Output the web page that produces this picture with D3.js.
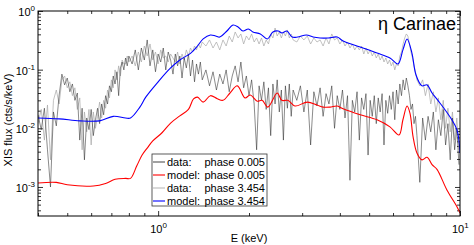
<!DOCTYPE html>
<html>
<head>
<meta charset="utf-8">
<script src="https://cdn.jsdelivr.net/npm/d3@7"></script>
<style>
body { margin: 0; background: #fff; }
text { font-family: "Liberation Sans", Arial, Helvetica, sans-serif; }
</style>
</head>
<body>
<div id="chart"></div>
<script>
// energy grid of the XIS spectra (keV)
var energy = [0.40,0.41,0.42,0.43,0.44,0.45,0.46,0.47,0.48,0.49,
    0.50,0.51,0.52,0.53,0.54,0.55,0.56,0.57,0.58,0.59,
    0.60,0.61,0.62,0.63,0.64,0.65,0.66,0.67,0.68,0.69,
    0.70,0.71,0.72,0.73,0.74,0.75,0.76,0.77,0.78,0.79,0.80,
    0.82,0.84,0.86,0.88,0.90,0.92,0.94,0.96,0.98,1.00,
    1.02,1.04,1.06,1.08,1.10,1.12,1.14,1.16,1.18,1.20,
    1.22,1.24,1.26,1.28,1.30,1.32,1.34,1.36,1.38,1.40,
    1.44,1.48,1.52,1.56,1.60,1.64,1.68,1.72,1.76,1.80,
    1.84,1.88,1.92,1.96,2.00,2.04,2.08,2.12,2.16,2.20,
    2.24,2.28,2.32,2.36,2.40,2.44,2.48,2.52,2.56,2.60,
    2.64,2.68,2.72,2.76,2.80,
    2.88,2.96,3.04,3.12,3.20,3.28,3.36,3.44,3.52,3.60,
    3.68,3.76,3.84,3.92,4.00,4.08,4.16,4.24,4.32,4.40,
    4.48,4.56,4.64,4.72,4.80,4.88,4.96,5.04,5.12,5.20,
    5.28,5.36,5.44,5.52,5.60,5.68,5.76,5.84,5.92,6.00,
    6.08,6.16,6.24,6.32,6.40,6.48,6.56,6.64,6.72,6.80,
    6.88,6.96,7.04,7.12,7.20,
    7.36,7.52,7.68,7.84,8.00,8.16,8.32,8.48,8.64,8.80,
    8.96,9.12,9.28,9.44,9.60,9.76,9.92]

// data: phase 0.005 (cts/s/keV)
var data_0005 = [0.017,0.0095,0.022,0.0043,0.0010,0.019,0.011,0.037,0.084,0.055,
    0.072,0.042,0.057,0.030,0.040,0.0063,0.022,0.0029,0.015,0.0095,
    0.021,0.0075,0.014,0.022,0.012,0.026,0.017,0.036,0.026,0.053,
    0.042,0.078,0.057,0.092,0.036,0.107,0.135,0.099,0.158,0.116,0.171,
    0.125,0.217,0.099,0.234,0.146,0.321,0.116,0.217,0.092,0.185,
    0.135,0.234,0.099,0.200,0.146,0.084,0.185,0.116,0.171,0.072,
    0.158,0.107,0.185,0.078,0.146,0.062,0.125,0.084,0.135,0.067,
    0.099,0.053,0.092,0.045,0.084,0.057,0.099,0.042,0.078,0.116,
    0.062,0.135,0.049,0.078,0.036,0.067,0.026,0.0043,0.053,0.030,
    0.062,0.021,0.049,0.0075,0.057,0.026,0.067,0.019,0.045,0.0063,
    0.053,0.022,0.057,0.016,0.045,
    0.030,0.053,0.019,0.045,0.0052,0.042,0.024,0.049,0.016,0.039,
    0.026,0.053,0.010,0.036,0.021,0.045,0.015,0.036,0.0013,0.030,
    0.019,0.042,0.0063,0.033,0.021,0.039,0.0035,0.030,0.016,0.036,
    0.012,0.033,0.019,0.039,0.0052,0.030,0.018,0.036,0.021,0.042,
    0.014,0.045,0.026,0.057,0.036,0.067,0.045,0.072,0.053,0.036,
    0.021,0.026,0.012,0.016,0.0075,
    0.0012,0.015,0.0063,0.016,0.0087,0.019,0.0043,0.014,0.0075,0.021,
    0.0052,0.012,0.0029,0.015,0.0043,0.010,0.0024]

// data: phase 3.454
var data_3454 = [0.012,0.021,0.0063,0.025,0.0029,0.030,0.045,0.026,0.067,0.078,
    0.049,0.062,0.036,0.049,0.021,0.033,0.0043,0.019,0.0087,0.021,
    0.0052,0.019,0.010,0.016,0.028,0.015,0.030,0.022,0.045,0.033,
    0.067,0.049,0.099,0.067,0.116,0.078,0.146,0.125,0.125,0.171,0.135,
    0.171,0.116,0.200,0.135,0.253,0.171,0.274,0.146,0.200,0.125,
    0.217,0.158,0.171,0.135,0.185,0.158,0.135,0.200,0.125,0.185,
    0.146,0.217,0.171,0.234,0.200,0.253,0.217,0.274,0.234,0.296,
    0.253,0.321,0.234,0.296,0.217,0.321,0.253,0.375,0.296,0.439,
    0.347,0.406,0.274,0.375,0.321,0.406,0.296,0.347,0.274,0.347,
    0.253,0.321,0.274,0.406,0.347,0.513,0.375,0.439,0.347,0.439,
    0.375,0.475,0.347,0.406,0.321,
    0.296,0.375,0.321,0.375,0.274,0.347,0.296,0.321,0.253,0.347,
    0.274,0.406,0.321,0.347,0.274,0.321,0.253,0.296,0.234,0.274,
    0.217,0.253,0.217,0.253,0.185,0.234,0.185,0.217,0.171,0.200,
    0.158,0.185,0.146,0.171,0.135,0.158,0.125,0.146,0.116,0.135,
    0.099,0.125,0.116,0.171,0.200,0.274,0.347,0.406,0.375,0.274,
    0.200,0.158,0.116,0.092,0.067,
    0.053,0.067,0.036,0.057,0.026,0.042,0.019,0.033,0.014,0.030,
    0.010,0.022,0.0087,0.019,0.0063,0.015,0.0043]

// model curves
var model_0005_E = [0.40,0.46,0.50,0.61,0.67,0.72,0.78,0.81,0.85,0.885,
    0.92,0.96,1.03,1.10,1.18,1.26,1.31,1.35,1.41,1.49,
    1.57,1.64,1.73,1.83,1.94,2.02,2.13,2.21,2.31,2.48,
    2.57,2.69,2.84,3.12,3.36,3.52,3.71,3.92,4.10,4.67,
    5.31,5.86,6.28,6.47,6.68,6.83,6.99,7.20,7.48,7.78,
    8.08,8.39,9.05,9.77,10.0]
var model_0005_F = [0.00117,0.0012,0.00109,0.00104,0.00115,0.00135,0.0014,0.0014,0.0023,0.0035,
    0.0046,0.0061,0.0084,0.0123,0.0163,0.021,0.0317,0.034,0.028,0.036,
    0.032,0.030,0.040,0.053,0.033,0.037,0.029,0.030,0.023,0.040,
    0.030,0.030,0.024,0.028,0.025,0.023,0.023,0.024,0.0215,0.017,
    0.014,0.0106,0.0077,0.014,0.024,0.018,0.0072,0.0038,0.0029,0.0032,
    0.0024,0.0020,0.00089,0.00046,0.00036]
var model_3454_E = [0.40,0.47,0.55,0.64,0.71,0.78,0.81,0.87,0.91,1.00,
    1.10,1.18,1.28,1.35,1.41,1.49,1.55,1.60,1.69,1.77,
    1.84,1.91,1.99,2.06,2.18,2.30,2.40,2.50,2.57,2.67,
    2.78,2.90,3.10,3.26,3.44,3.66,3.92,4.10,4.67,5.31,
    5.86,6.23,6.47,6.68,6.93,7.15,7.48,7.78,8.08,8.45,
    9.26,9.77,10.0]
var model_3454_F = [0.015,0.0145,0.0134,0.0134,0.016,0.015,0.015,0.023,0.034,0.062,
    0.107,0.146,0.19,0.253,0.334,0.39,0.375,0.36,0.456,0.577,
    0.534,0.456,0.494,0.439,0.406,0.334,0.439,0.456,0.422,0.456,
    0.36,0.36,0.39,0.36,0.347,0.347,0.36,0.308,0.243,0.192,
    0.158,0.125,0.217,0.334,0.192,0.081,0.053,0.055,0.040,0.030,
    0.0157,0.0094,0.0038]

var legend_labels = [['data:', 'phase 0.005'], ['model:', 'phase 0.005'], ['data:', 'phase 3.454'], ['model:', 'phase 3.454']]
var legend_colors = ['#555555', '#ff0000', '#bbbbbb', '#0000ff']
var y_major = [1e-3, 1e-2, 1e-1, 1]
var y_exp = ['-3', '-2', '-1', '0']
var x_major = [1, 10]
var x_exp = ['0', '1']

var W = 474, H = 245
// plot box (note: "top" is reserved on window)
var p_left = 38, p_right = 460, p_top = 11, p_bottom = 216

var svg = d3.select('#chart')
    .append('svg')
    .attr('width', W)
    .attr('height', H)

var x = d3.scaleLog().domain([0.4, 10]).range([p_left, p_right])
var y = d3.scaleLog().domain([3.2e-4, 1]).range([p_bottom, p_top])

svg.append('clipPath')
    .attr('id', 'plotclip')
    .append('rect')
    .attr('x', p_left).attr('y', p_top)
    .attr('width', p_right - p_left).attr('height', p_bottom - p_top)

// minor ticks
var x_minor = [], y_minor = []
;[0.1, 1].forEach(function(d){ for (var k = 2; k <= 9; k++){ var v = +(d * k).toFixed(2); if (v >= 0.4 && v < 10) x_minor.push(v) } })
;[1e-4, 1e-3, 1e-2, 1e-1].forEach(function(d){ for (var k = 2; k <= 9; k++){ var v = d * k; if (v >= 3.2e-4) y_minor.push(v) } })

function addAxis(axis, tr){
    var g = svg.append('g').attr('transform', tr).call(axis)
    g.select('.domain').remove()
    g.selectAll('line').attr('stroke', '#000').attr('stroke-width', 0.8)
    g.selectAll('text').remove()
}
addAxis(d3.axisBottom(x).tickValues(x_major).tickSize(-5), 'translate(0,' + p_bottom + ')')
addAxis(d3.axisBottom(x).tickValues(x_minor).tickSize(-3), 'translate(0,' + p_bottom + ')')
addAxis(d3.axisTop(x).tickValues(x_major).tickSize(-5), 'translate(0,' + p_top + ')')
addAxis(d3.axisTop(x).tickValues(x_minor).tickSize(-3), 'translate(0,' + p_top + ')')
addAxis(d3.axisLeft(y).tickValues(y_major).tickSize(-5), 'translate(' + p_left + ',0)')
addAxis(d3.axisLeft(y).tickValues(y_minor).tickSize(-3), 'translate(' + p_left + ',0)')
addAxis(d3.axisRight(y).tickValues(y_major).tickSize(-5), 'translate(' + p_right + ',0)')
addAxis(d3.axisRight(y).tickValues(y_minor).tickSize(-3), 'translate(' + p_right + ',0)')

// tick labels 10^n
y_major.forEach(function(v, i){
    var t = svg.append('text')
        .attr('x', p_left - 3)
        .attr('y', y(v) + 5)
        .attr('text-anchor', 'end')
        .attr('font-size', 11)
    t.append('tspan').text('10')
    t.append('tspan').attr('dy', -5).attr('font-size', 8).text(y_exp[i])
})
x_major.forEach(function(v, i){
    var t = svg.append('text')
        .attr('x', x(v) - 8)
        .attr('y', 233)
        .attr('font-size', 11)
    t.append('tspan').text('10')
    t.append('tspan').attr('dy', -5).attr('font-size', 8).text(x_exp[i])
})

svg.append('text')
    .attr('x', (p_left + p_right) / 2)
    .attr('y', 242)
    .attr('text-anchor', 'middle')
    .attr('font-size', 11)
    .text('E (keV)')
svg.append('text')
    .attr('transform', 'translate(12,' + 120 + ') rotate(-90)')
    .attr('text-anchor', 'middle')
    .attr('font-size', 11)
    .text('XIS flux (cts/s/keV)')

// spectra
var plot = svg.append('g').attr('clip-path', 'url(#plotclip)')

var dline = d3.line()
    .x(function(d){ return x(d[0]) })
    .y(function(d){ return y(d[1]) })
var mline = d3.line()
    .x(function(d){ return x(d[0]) })
    .y(function(d){ return y(d[1]) })
    .curve(d3.curveCatmullRom.alpha(0.5))

plot.append('path')
    .attr('d', dline(d3.zip(energy, data_3454)))
    .attr('fill', 'none')
    .attr('stroke', '#a8a8a8')
    .attr('stroke-width', 0.7)
plot.append('path')
    .attr('d', dline(d3.zip(energy, data_0005)))
    .attr('fill', 'none')
    .attr('stroke', '#2a2a2a')
    .attr('stroke-width', 0.55)
plot.append('path')
    .attr('d', mline(d3.zip(model_0005_E, model_0005_F)))
    .attr('fill', 'none')
    .attr('stroke', '#ff0000')
    .attr('stroke-width', 1.1)
plot.append('path')
    .attr('d', mline(d3.zip(model_3454_E, model_3454_F)))
    .attr('fill', 'none')
    .attr('stroke', '#0000ff')
    .attr('stroke-width', 1.1)

svg.append('rect')
    .attr('x', p_left).attr('y', p_top)
    .attr('width', p_right - p_left).attr('height', p_bottom - p_top)
    .attr('fill', 'none')
    .attr('stroke', '#000')
    .attr('stroke-width', 1)

svg.append('text')
    .attr('x', 456)
    .attr('y', 30)
    .attr('text-anchor', 'end')
    .attr('font-size', 18)
    .text('\u03B7 Carinae')

// legend
var lg = svg.append('g')
lg.append('rect')
    .attr('x', 152).attr('y', 154)
    .attr('width', 115).attr('height', 52)
    .attr('fill', '#fff')
    .attr('stroke', '#333')
    .attr('stroke-width', 0.8)
legend_labels.forEach(function(d, i){
    var yy = 162 + i * 13
    lg.append('line')
        .attr('x1', 153).attr('x2', 165)
        .attr('y1', yy).attr('y2', yy)
        .attr('stroke', legend_colors[i])
        .attr('stroke-width', 1.1)
    lg.append('text')
        .attr('x', 167).attr('y', yy + 4)
        .attr('font-size', 11)
        .text(d[0])
    lg.append('text')
        .attr('x', 265).attr('y', yy + 4)
        .attr('text-anchor', 'end')
        .attr('font-size', 11)
        .text(d[1])
})
</script>
</body>
</html>
